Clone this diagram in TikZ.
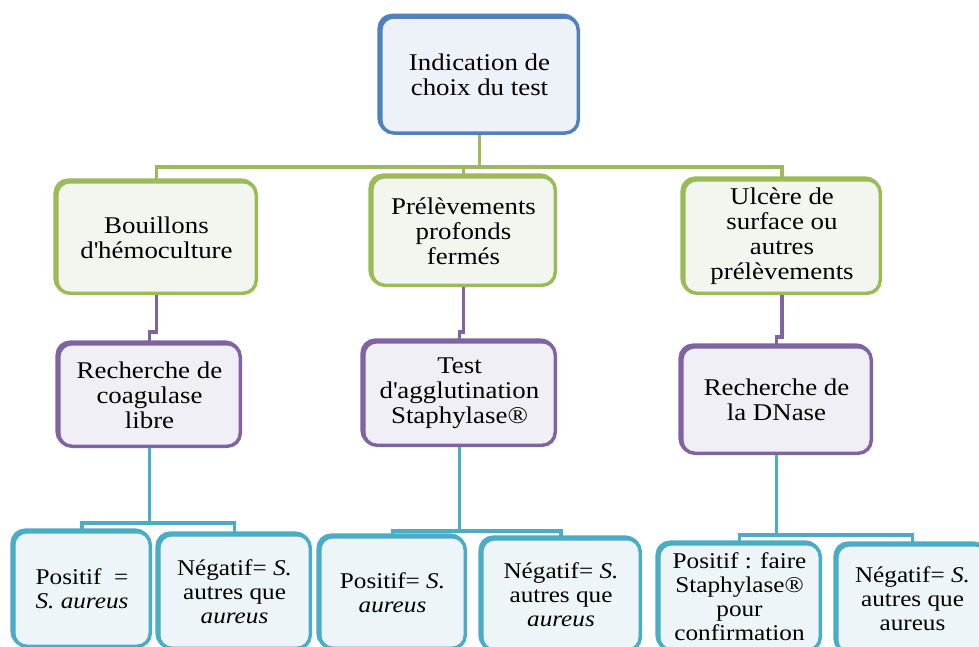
\documentclass[tikz,border=0pt]{standalone}
\usepackage{fontspec}
\setmainfont{Liberation Serif}[FakeStretch=1.12]
\definecolor{bluebd}{HTML}{4F81BD}
\definecolor{bluefill}{HTML}{EDF1F8}
\definecolor{greenbd}{HTML}{9BBB59}
\definecolor{greenfill}{HTML}{F3F6EE}
\definecolor{purpbd}{HTML}{8064A2}
\definecolor{purpfill}{HTML}{F1EFF6}
\definecolor{cyanbd}{HTML}{4BACC6}
\definecolor{cyanfill}{HTML}{EDF5F9}
\begin{document}
\begin{tikzpicture}[x=1pt,y=-1pt,
  box/.style={draw, rounded corners=13pt, line width=3.5pt, align=center, inner sep=0pt,
    font=\fontsize{24}{25}\selectfont,
    preaction={draw, fill=none, transform canvas={shift={(-1.6pt,1.6pt)}}}},
  topbox/.style={box, draw=bluebd, fill=bluefill},
  gbox/.style={box, draw=greenbd, fill=greenfill},
  pbox/.style={box, draw=purpbd, fill=purpfill},
  cbox/.style={box, draw=cyanbd, fill=cyanfill, font=\fontsize{22.5}{24}\selectfont},
  gline/.style={draw=greenbd, line width=3.5pt},
  pline/.style={draw=purpbd, line width=3.5pt},
  cline/.style={draw=cyanbd, line width=3.5pt},
]
\useasboundingbox (0,0) rectangle (979,646);
\clip (0,0) rectangle (979,646);

\node[topbox, minimum width=197.5pt, minimum height=116pt] (top) at (479.5,75) {Indication de\\choix du test};

\node[gbox, minimum width=199.5pt, minimum height=111.5pt] (g1) at (156.5,237.5) {Bouillons\\d\textquotesingle hémoculture};
\node[gbox, minimum width=183.5pt, minimum height=108.5pt] (g2) at (463.5,231) {Prélèvements\\profonds\\fermés};
\node[gbox, minimum width=196.5pt, minimum height=113.5pt] (g3) at (782,236.5) {Ulcère de\\surface ou\\autres\\prélèvements};

\node[pbox, minimum width=181.5pt, minimum height=102.5pt] (p1) at (149.5,395) {Recherche de\\coagulase\\libre};
\node[pbox, minimum width=191.5pt, minimum height=103.5pt] (p2) at (459.5,393.5) {Test\\d\textquotesingle agglutination\\Staphylase®};
\node[pbox, minimum width=189.5pt, minimum height=106.5pt] (p3) at (776.5,400) {Recherche de\\la DNase};

\node[cbox, minimum width=136.5pt, minimum height=114.5pt] (b1) at (82,589) {Positif~ =\\\textit{S. aureus}};
\node[cbox, minimum width=151.5pt, minimum height=113.5pt] (b2) at (234.5,591.5) {Négatif= \textit{S.}\\autres que\\\textit{aureus}};
\node[cbox, minimum width=145.5pt, minimum height=111.5pt] (b3) at (392.5,592.5) {Positif= \textit{S.}\\\textit{aureus}};
\node[cbox, minimum width=158.5pt, minimum height=111.5pt] (b4) at (561,594.5) {Négatif= \textit{S.}\\autres que\\\textit{aureus}};
\node[cbox, minimum width=161.5pt, minimum height=106.5pt] (b5) at (739.5,597) {Positif : faire\\Staphylase®\\pour\\confirmation};
\node[cbox, minimum width=151.5pt, minimum height=108.5pt] (b6) at (912.5,599) {Négatif= \textit{S.}\\autres que\\aureus};

\draw[gline] (top.south) -- ++(0,32) -| (g1.north);
\draw[gline] (top.south) -- ++(0,32) -| (g2.north);
\draw[gline] (top.south) -- ++(0,32) -| (g3.north);

\draw[pline] (g1.south) -- ++(0,37) -| (p1.north);
\draw[pline] (g2.south) -- ++(0,45) -| (p2.north);
\draw[pline] (g3.south) -- ++(0,42) -| (p3.north);

\draw[cline] (p1.south) -- ++(0,75) -| (b1.north);
\draw[cline] (p1.south) -- ++(0,75) -| (b2.north);
\draw[cline] (p2.south) -- ++(0,84) -| (b3.north);
\draw[cline] (p2.south) -- ++(0,84) -| (b4.north);
\draw[cline] (p3.south) -- ++(0,80) -| (b5.north);
\draw[cline] (p3.south) -- ++(0,80) -| (b6.north);
\end{tikzpicture}
\end{document}
